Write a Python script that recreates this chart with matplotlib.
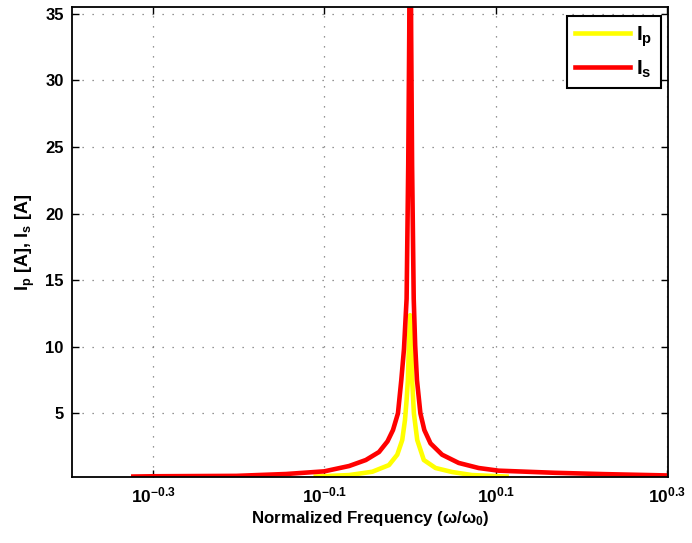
import matplotlib
matplotlib.use("Agg")
import matplotlib.pyplot as plt

# ---- data ----
# normalized frequency given as log10(omega/omega0), in decades
red_logf = [-0.3231, -0.3002, -0.2029, -0.1448, -0.1002, -0.0712, -0.0517, -0.0363,
            -0.0264, -0.0200, -0.0142, -0.0103, -0.0072, -0.0041, -0.0022, -0.0010,
            0.0, 0.0012, 0.0023, 0.0042, 0.0059, 0.0080, 0.0120, 0.0166, 0.0238,
            0.0373, 0.0567, 0.0800, 0.1033, 0.1692, 0.2273, 0.3010]
red_vals = [0.26, 0.28, 0.31, 0.45, 0.65, 1.05, 1.5, 2.1,
            2.9, 3.75, 5.0, 7.5, 9.8, 13.6, 23.6, 33.6,
            50.0, 33.6, 23.6, 13.6, 10.1, 7.5, 5.0, 3.75, 2.75,
            1.9, 1.28, 0.9, 0.7, 0.54, 0.44, 0.34]

yel_logf = [-0.1101, -0.0712, -0.0441, -0.0247, -0.0150, -0.0092, -0.0060, -0.0041,
            -0.0026, -0.0015, 0.0, 0.0015, 0.0024, 0.0044, 0.0083, 0.0160, 0.0297,
            0.0490, 0.0722, 0.1126]
yel_vals = [0.26, 0.37, 0.62, 1.12, 1.9, 3.0, 4.5, 6.0,
            7.5, 10.0, 12.37, 10.0, 7.5, 5.0, 3.0, 1.5, 0.9,
            0.6, 0.37, 0.26]

series_labels = [r"$\mathregular{I_p}$", r"$\mathregular{I_s}$"]
xtick_exps = [-0.3, -0.1, 0.1, 0.3]
xtick_labels = [r"$\mathregular{10^{-0.3}}$", r"$\mathregular{10^{-0.1}}$",
                r"$\mathregular{10^{0.1}}$", r"$\mathregular{10^{0.3}}$"]
ytick_vals = [5, 10, 15, 20, 25, 30, 35]

red_freq = [10 ** d for d in red_logf]
yel_freq = [10 ** d for d in yel_logf]

# ---- style ----
plt.rcParams["font.family"] = ["Liberation Sans", "DejaVu Sans"]
plt.rcParams["font.weight"] = "bold"
plt.rcParams["mathtext.fontset"] = "custom"
plt.rcParams["mathtext.rm"] = "Liberation Sans:bold"
plt.rcParams["mathtext.it"] = "Liberation Sans:bold"
plt.rcParams["mathtext.bf"] = "Liberation Sans:bold"
plt.rcParams["axes.unicode_minus"] = False

W, H = 692, 543
fig = plt.figure(figsize=(W / 100, H / 100), dpi=100)
left, right, top, bottom = 72, 668, 7, 477
ax = fig.add_axes([left / W, 1 - bottom / H, (right - left) / W, (bottom - top) / H])

ax.plot(yel_freq, yel_vals, color=(1, 1, 0), lw=3.3, label=series_labels[0],
        solid_joinstyle="round")
ax.plot(red_freq, red_vals, color=(1, 0, 0), lw=3.3, label=series_labels[1],
        solid_joinstyle="round")

ax.set_xscale("log")
ax.set_xlim(0.403, 2.0)
ax.set_ylim(0.225, 35.5)
ax.set_xticks([10 ** e for e in xtick_exps])
ax.set_xticklabels(xtick_labels, fontsize=12.5)
ax.xaxis.set_minor_locator(matplotlib.ticker.NullLocator())
ax.set_yticks(ytick_vals)
ax.set_yticklabels([str(v) for v in ytick_vals], fontsize=12, fontweight="bold")

ax.tick_params(direction="in", top=True, right=True, length=5, width=1.0, pad=6)
ax.grid(True, color="0.45", linestyle=(0, (1, 7)), linewidth=0.9)
for sp in ax.spines.values():
    sp.set_linewidth(1.3)
    sp.set_color("black")

ax.set_xlabel(r"Normalized Frequency ($\mathregular{\omega/\omega_0}$)",
              fontsize=12.2, fontweight="bold", labelpad=3)
ax.set_ylabel(r"$\mathregular{I_p}$ [A], $\mathregular{I_s}$ [A]", fontsize=13,
              fontweight="bold", labelpad=6)

leg = ax.legend(loc="upper right", bbox_to_anchor=(661 / W, 1 - 16 / H),
                bbox_transform=fig.transFigure,
                prop={"size": 15, "weight": "bold"},
                frameon=True, fancybox=False, edgecolor="black", handlelength=2.65,
                handletextpad=0.3, labelspacing=0.45, borderpad=0.4,
                borderaxespad=0)
leg.get_frame().set_linewidth(1.5)
leg.get_frame().set_alpha(1)

fig.savefig("out.png", dpi=100)
